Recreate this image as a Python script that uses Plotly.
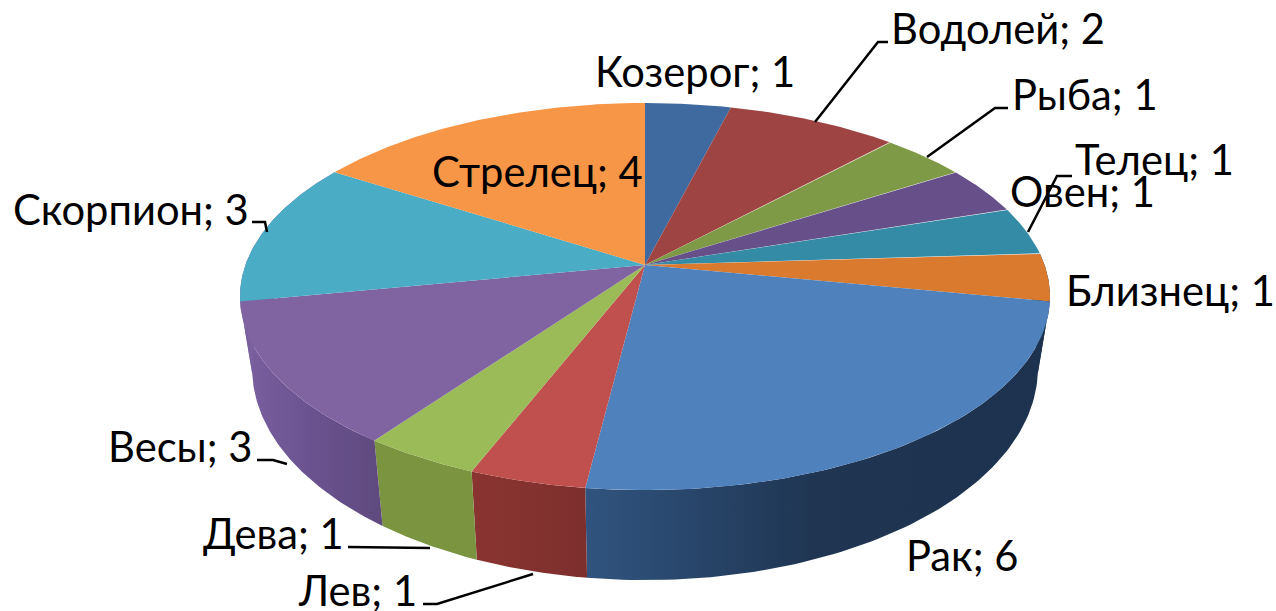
import numpy as np
import plotly.graph_objects as go

# --- data (clockwise from 12 o'clock) ---
signs = ["Козерог", "Водолей", "Рыба", "Телец", "Овен", "Близнец",
         "Рак", "Лев", "Дева", "Весы", "Скорпион", "Стрелец"]
counts = [1, 2, 1, 1, 1, 1, 6, 1, 1, 3, 3, 4]

# --- styling ---
top_colors = ["#3f6a9f", "#9e4442", "#7f9a47", "#67508a", "#348ba5", "#d97a2e",
              "#4f81bd", "#c0504d", "#9bbb59", "#8064a2", "#4bacc6", "#f79646"]
rim_colors = {
    "Близнец": ["#1e3450", "#1e3450"],
    "Рак": ["#30547f", "#1f3552", "#1d324e"],
    "Лев": ["#8a3431", "#7d2f2d"],
    "Дева": ["#7a9440", "#7a9440"],
    "Весы": ["#7b60a0", "#6a5290", "#5f4a7d"],
    "Скорпион": ["#7b60a0", "#7b60a0"],
}
CX, CY = 645.0, 265.0
A, B, P = 399.6, 188.4, 0.163
A2, B2, CY2 = 0.97 * A, 206.0, 334.0
FONT = "Lato, 'Noto Sans', sans-serif"
FS = 41.7

label_pos = {
    "Козерог": (595, 71), "Водолей": (891, 28), "Рыба": (1012, 94),
    "Телец": (1075, 159), "Овен": (1010, 191), "Близнец": (1066, 290),
    "Рак": (906, 555), "Лев": (298, 590), "Дева": (203, 533),
    "Весы": (108, 446), "Скорпион": (13, 209), "Стрелец": (432, 171),
}
leaders = [
    [(888, 42), (878, 42), (815, 122)],
    [(1008, 108), (995, 108), (927, 157)],
    [(1072, 176), (1057, 176), (1028, 232)],
    [(252, 222), (265, 222), (267, 232)],
    [(257, 460), (273, 460), (287, 464)],
    [(348, 547), (430, 548)],
    [(423, 604), (437, 604), (533, 574)],
]


def top_pt(t):
    w = 1 + P * np.cos(t)
    return CX + A * np.sin(t) / w, CY - B * np.cos(t) / w


def bot_pt(t):
    w = 1 + P * np.cos(t)
    return CX + A2 * np.sin(t) / w, CY2 - B2 * np.cos(t) / w


edges = np.cumsum([0] + counts) / sum(counts) * 2 * np.pi
fig = go.Figure()

# rim first, so the top face covers everything behind it
for i, name in enumerate(signs):
    if name not in rim_colors:
        continue
    t = np.linspace(edges[i], edges[i + 1], 80)
    xt, yt = top_pt(t)
    xb, yb = bot_pt(t[::-1])
    cols = rim_colors[name]
    scale = [[k / (len(cols) - 1), c] for k, c in enumerate(cols)]
    fig.add_trace(go.Scatter(
        x=np.r_[xt, xb], y=np.r_[yt, yb], mode="lines", fill="toself",
        line=dict(width=0), fillgradient=dict(type="horizontal", colorscale=scale),
        hoverinfo="skip", showlegend=False))

for i, name in enumerate(signs):
    t = np.linspace(edges[i], edges[i + 1], 80)
    xt, yt = top_pt(t)
    fig.add_trace(go.Scatter(
        x=np.r_[CX, xt, CX], y=np.r_[CY, yt, CY], mode="lines", fill="toself",
        fillcolor=top_colors[i], line=dict(width=0),
        name=name, text=f"{name}; {counts[i]}", hoverinfo="text", showlegend=False))

shapes = []
for pts in leaders:
    path = "M " + " L ".join(f"{x},{y}" for x, y in pts)
    shapes.append(dict(type="path", path=path, xref="x", yref="y",
                       line=dict(color="#000000", width=2.5)))

annotations = []
for name, value in zip(signs, counts):
    x, y = label_pos[name]
    annotations.append(dict(x=x, y=y, xref="x", yref="y", text=f"{name}; {value}",
                            showarrow=False, xanchor="left", yanchor="middle",
                            xshift=-2, font=dict(family=FONT, size=FS, color="#000000")))

fig.update_layout(
    width=1276, height=611, margin=dict(l=0, r=0, t=0, b=0),
    paper_bgcolor="white", plot_bgcolor="white",
    xaxis=dict(range=[0, 1276], visible=False, fixedrange=True),
    yaxis=dict(range=[611, 0], visible=False, fixedrange=True),
    shapes=shapes, annotations=annotations,
)
fig.write_html("out.html", config=dict(displayModeBar=False),
               post_script="document.body.style.margin='0';document.body.style.overflow='hidden';")
